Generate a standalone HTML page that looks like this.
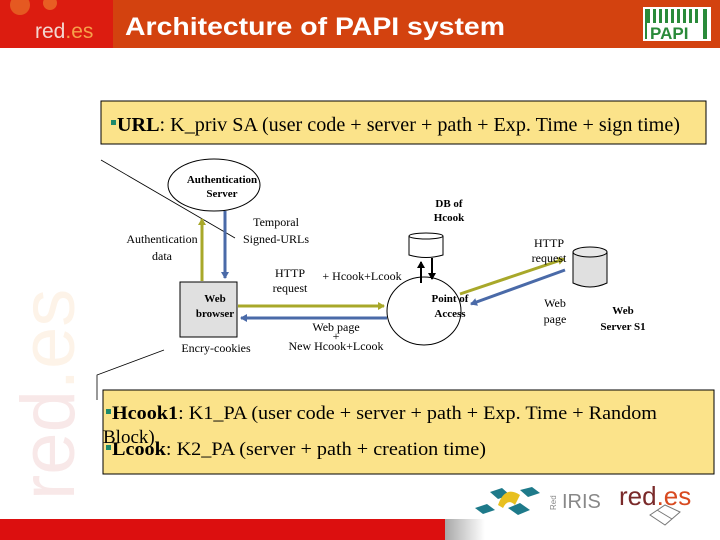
<!DOCTYPE html>
<html><head><meta charset="utf-8"><style>
html,body{margin:0;padding:0;width:720px;height:540px;overflow:hidden;background:#fff}
</style></head><body>
<svg width="720" height="540" viewBox="0 0 720 540" xmlns="http://www.w3.org/2000/svg">
<defs>
<linearGradient id="fg" x1="0" x2="1" y1="0" y2="0">
<stop offset="0" stop-color="#a8a8a8"/><stop offset="1" stop-color="#ffffff"/></linearGradient>
<marker id="ay" markerWidth="8" markerHeight="8" refX="6" refY="4" orient="auto" markerUnits="userSpaceOnUse"><path d="M0,0 L7,4 L0,8 z" fill="#a8a82a"/></marker>
<marker id="ab" markerWidth="8" markerHeight="8" refX="6" refY="4" orient="auto" markerUnits="userSpaceOnUse"><path d="M0,0 L7,4 L0,8 z" fill="#4a6aa8"/></marker>
<marker id="ak" markerWidth="8" markerHeight="8" refX="6" refY="4" orient="auto" markerUnits="userSpaceOnUse"><path d="M0,0 L7,4 L0,8 z" fill="#000"/></marker>
</defs>
<!-- header -->
<rect x="0" y="0" width="720" height="48" fill="#d3420f"/>
<rect x="0" y="0" width="113" height="48" fill="#dc1c10"/>
<circle cx="20" cy="5" r="10" fill="#e8742a" opacity="0.7"/>
<circle cx="50" cy="3" r="7" fill="#f08a30" opacity="0.6"/>
<text x="35" y="38" font-family="Liberation Sans, sans-serif" font-size="21" fill="#f3d7d0">red<tspan fill="#f7a04a">.es</tspan></text>
<text x="125" y="35" font-family="Liberation Sans, sans-serif" font-size="25" font-weight="bold" fill="#fff" textLength="380" lengthAdjust="spacingAndGlyphs">Architecture of PAPI system</text>
<rect x="643" y="7" width="68" height="34" fill="#fff"/>
<g fill="#2a8a3a"><rect x="647" y="9" width="3" height="14"/><rect x="653" y="9" width="3" height="14"/><rect x="659" y="9" width="3" height="14"/><rect x="665" y="9" width="3" height="14"/><rect x="671" y="9" width="3" height="14"/><rect x="677" y="9" width="3" height="14"/><rect x="683" y="9" width="3" height="14"/><rect x="689" y="9" width="3" height="14"/><rect x="695" y="9" width="3" height="14"/><rect x="703" y="9" width="4" height="30"/><rect x="645" y="9" width="2" height="30"/></g>
<text x="650" y="39" font-family="Liberation Sans, sans-serif" font-size="17" font-weight="bold" fill="#2a8a3a">PAPI</text>
<!-- watermark -->
<text transform="translate(74,500) rotate(-90)" font-family="Liberation Sans, sans-serif" font-size="76" fill="#f8e8e8">red<tspan fill="#fdf3e8">.es</tspan></text>
<!-- top box -->
<rect x="101" y="101" width="605" height="43" fill="#fbe38a" stroke="#000" stroke-width="1"/>
<rect x="111" y="120" width="5" height="5" fill="#1e8a6a"/>
<text x="117" y="131" font-family="Liberation Serif, serif" font-size="20" fill="#000" textLength="563" lengthAdjust="spacingAndGlyphs"><tspan font-weight="bold">URL</tspan>: K_priv SA (user code + server + path + Exp. Time + sign time)</text>
<!-- thin lines -->
<line x1="101" y1="160" x2="235" y2="238" stroke="#000" stroke-width="0.8"/>
<polyline points="97,400 97,375 164,350" fill="none" stroke="#000" stroke-width="0.8"/>
<!-- auth server -->
<ellipse cx="214" cy="185" rx="46" ry="26" fill="#fff" stroke="#000"/>
<text x="222" y="183" text-anchor="middle" font-family="Liberation Serif, serif" font-size="11" font-weight="bold">Authentication</text>
<text x="222" y="197" text-anchor="middle" font-family="Liberation Serif, serif" font-size="11" font-weight="bold">Server</text>
<!-- web browser -->
<rect x="180" y="282" width="57" height="55" fill="#e0e0e0" stroke="#000"/>
<text x="215" y="302" text-anchor="middle" font-family="Liberation Serif, serif" font-size="11" font-weight="bold">Web</text>
<text x="215" y="317" text-anchor="middle" font-family="Liberation Serif, serif" font-size="11" font-weight="bold">browser</text>
<line x1="202" y1="281" x2="202" y2="219" stroke="#a8a82a" stroke-width="3" marker-end="url(#ay)"/>
<line x1="225" y1="211" x2="225" y2="278" stroke="#4a6aa8" stroke-width="3" marker-end="url(#ab)"/>
<text x="162" y="243" text-anchor="middle" font-family="Liberation Serif, serif" font-size="12">Authentication</text>
<text x="162" y="260" text-anchor="middle" font-family="Liberation Serif, serif" font-size="12">data</text>
<text x="276" y="226" text-anchor="middle" font-family="Liberation Serif, serif" font-size="12">Temporal</text>
<text x="276" y="243" text-anchor="middle" font-family="Liberation Serif, serif" font-size="12">Signed-URLs</text>
<text x="216" y="352" text-anchor="middle" font-family="Liberation Serif, serif" font-size="12">Encry-cookies</text>
<!-- horizontal -->
<line x1="238" y1="306" x2="384" y2="306" stroke="#a8a82a" stroke-width="3" marker-end="url(#ay)"/>
<line x1="387" y1="318" x2="241" y2="318" stroke="#4a6aa8" stroke-width="3" marker-end="url(#ab)"/>
<text x="290" y="277" text-anchor="middle" font-family="Liberation Serif, serif" font-size="12">HTTP</text>
<text x="290" y="292" text-anchor="middle" font-family="Liberation Serif, serif" font-size="12">request</text>
<text x="362" y="280" text-anchor="middle" font-family="Liberation Serif, serif" font-size="12">+ Hcook+Lcook</text>
<text x="336" y="331" text-anchor="middle" font-family="Liberation Serif, serif" font-size="12">Web page</text>
<text x="336" y="340" text-anchor="middle" font-family="Liberation Serif, serif" font-size="12">+</text>
<text x="336" y="350" text-anchor="middle" font-family="Liberation Serif, serif" font-size="12">New Hcook+Lcook</text>
<!-- point of access -->
<ellipse cx="424" cy="311" rx="37" ry="34" fill="#fff" stroke="#000"/>
<text x="450" y="302" text-anchor="middle" font-family="Liberation Serif, serif" font-size="11" font-weight="bold">Point of</text>
<text x="450" y="317" text-anchor="middle" font-family="Liberation Serif, serif" font-size="11" font-weight="bold">Access</text>
<!-- DB -->
<path d="M409,236 V255 Q426,260 443,255 V236" fill="#fff" stroke="#000"/>
<ellipse cx="426" cy="236" rx="17" ry="3" fill="#fff" stroke="#000"/>
<text x="449" y="207" text-anchor="middle" font-family="Liberation Serif, serif" font-size="11" font-weight="bold">DB of</text>
<text x="449" y="221" text-anchor="middle" font-family="Liberation Serif, serif" font-size="11" font-weight="bold">Hcook</text>
<line x1="421" y1="283" x2="421" y2="262" stroke="#000" stroke-width="2" marker-end="url(#ak)"/>
<line x1="432" y1="258" x2="432" y2="279" stroke="#000" stroke-width="2" marker-end="url(#ak)"/>
<!-- web server -->
<path d="M573,252 V283 Q590,291 607,283 V252" fill="#e0e0e0" stroke="#000"/>
<ellipse cx="590" cy="252" rx="17" ry="5" fill="#e8e8e8" stroke="#000"/>
<text x="623" y="314" text-anchor="middle" font-family="Liberation Serif, serif" font-size="11" font-weight="bold">Web</text>
<text x="623" y="330" text-anchor="middle" font-family="Liberation Serif, serif" font-size="11" font-weight="bold">Server S1</text>
<line x1="460" y1="294" x2="564" y2="259" stroke="#a8a82a" stroke-width="3" marker-end="url(#ay)"/>
<line x1="565" y1="270" x2="471" y2="304" stroke="#4a6aa8" stroke-width="3" marker-end="url(#ab)"/>
<text x="549" y="247" text-anchor="middle" font-family="Liberation Serif, serif" font-size="12">HTTP</text>
<text x="549" y="262" text-anchor="middle" font-family="Liberation Serif, serif" font-size="12">request</text>
<text x="555" y="307" text-anchor="middle" font-family="Liberation Serif, serif" font-size="12">Web</text>
<text x="555" y="323" text-anchor="middle" font-family="Liberation Serif, serif" font-size="12">page</text>
<!-- bottom box -->
<rect x="103" y="390" width="611" height="84" fill="#fbe38a" stroke="#000"/>
<rect x="106" y="409" width="5" height="5" fill="#1e8a6a"/>
<text x="112" y="419" font-family="Liberation Serif, serif" font-size="19" textLength="545" lengthAdjust="spacingAndGlyphs"><tspan font-weight="bold">Hcook1</tspan>: K1_PA (user code + server + path + Exp. Time + Random</text>
<text x="103" y="443" font-family="Liberation Serif, serif" font-size="19">Block)</text>
<rect x="106" y="445" width="5" height="5" fill="#1e8a6a"/>
<text x="112" y="455" font-family="Liberation Serif, serif" font-size="19" textLength="374" lengthAdjust="spacingAndGlyphs"><tspan font-weight="bold">Lcook</tspan>: K2_PA (server + path + creation time)</text>
<!-- footer -->
<rect x="0" y="519" width="445" height="21" fill="#dc0f0f"/>
<rect x="445" y="519" width="40" height="21" fill="url(#fg)"/>
<!-- logos -->
<path d="M490,492 L502,488 L510,495 L498,499 z" fill="#1e7a8a"/>
<path d="M508,508 L520,503 L530,510 L518,515 z" fill="#1e7a8a"/>
<path d="M475,508 L487,504 L495,510 L483,514 z" fill="#1e7a8a"/>
<path d="M520,490 L532,487 L540,493 L528,497 z" fill="#1e7a8a"/>
<path d="M498,505 Q505,485 520,495 L515,505 Q508,498 503,508 z" fill="#e8c020"/>
<text x="562" y="508" font-family="Liberation Sans, sans-serif" font-size="20" fill="#888">IRIS</text>
<text transform="translate(556,510) rotate(-90)" font-family="Liberation Sans, sans-serif" font-size="8" fill="#888">Red</text>
<text x="619" y="505" font-family="Liberation Sans, sans-serif" font-size="26" fill="#7a2a2a">red<tspan fill="#d84a20">.es</tspan></text>
<path d="M650,515 L665,505 L680,512 L665,525 z M657,510 L672,519" fill="none" stroke="#777" stroke-width="1"/>
</svg>
</body></html>
